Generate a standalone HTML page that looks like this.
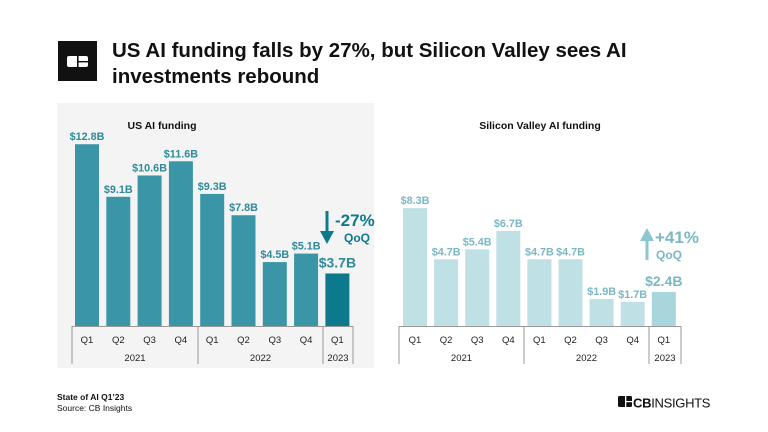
<!DOCTYPE html>
<html><head><meta charset="utf-8"><style>
body{margin:0;background:#fff;}
svg{display:block;font-family:"Liberation Sans",sans-serif;}
</style></head><body>
<svg width="768" height="432" viewBox="0 0 768 432" xmlns="http://www.w3.org/2000/svg">
<rect x="0" y="0" width="768" height="432" fill="#fff"/>
<g>
<rect x="58" y="41" width="39" height="40" fill="#111"/>
<rect x="67" y="56" width="21" height="11" rx="2" fill="#fff"/>
<rect x="77" y="56" width="1.6" height="11" fill="#111"/>
<rect x="77" y="61" width="11" height="1.4" fill="#111"/>
</g>
<text x="112" y="57" font-size="20.5" font-weight="bold" fill="#111">US AI funding falls by 27%, but Silicon Valley sees AI</text>
<text x="112" y="83" font-size="20.5" font-weight="bold" fill="#111">investments rebound</text>
<rect x="57" y="103" width="317" height="265" fill="#f4f4f4"/>
<text x="162" y="129" font-size="10.5" font-weight="bold" fill="#111" text-anchor="middle">US AI funding</text>
<text x="540" y="129" font-size="10.5" font-weight="bold" fill="#111" text-anchor="middle">Silicon Valley AI funding</text>
<g id="us"></g><g id="sv"></g>
<g>
<rect x="325.5" y="211" width="3" height="22" fill="#0c7a8c"/>
<polygon points="320,231 334,231 327,244" fill="#0c7a8c"/>
<text x="335" y="226" font-size="17" font-weight="bold" fill="#0c7a8c">-27%</text>
<text x="357" y="242" font-size="12" font-weight="bold" fill="#0c7a8c" text-anchor="middle">QoQ</text>
</g>
<g>
<rect x="645.5" y="239" width="3" height="21" fill="#8cc6d0"/>
<polygon points="640,241 654,241 647,228" fill="#8cc6d0"/>
<text x="655" y="243" font-size="17" font-weight="bold" fill="#7ab8c4">+41%</text>
<text x="669" y="259" font-size="12" font-weight="bold" fill="#7ab8c4" text-anchor="middle">QoQ</text>
</g>
<text x="57" y="400" font-size="8.5" font-weight="bold" fill="#111">State of AI Q1’23</text>
<text x="57" y="411" font-size="8.5" fill="#111">Source: CB Insights</text>
<g>
<rect x="618" y="396" width="14" height="11" rx="1.5" fill="#111"/>
<rect x="625" y="396" width="1.3" height="11" fill="#fff"/>
<rect x="625" y="401" width="7" height="1.2" fill="#fff"/>
<text x="633" y="407.5" font-size="13" fill="#111" letter-spacing="-0.3"><tspan font-weight="bold">CB</tspan>INSIGHTS</text>
</g>
</svg>
<script>
const quarters=["Q1","Q2","Q3","Q4","Q1","Q2","Q3","Q4","Q1"];
const years=["2021","2022","2023"];
const usValues=[12.8,9.1,10.6,11.6,9.3,7.8,4.5,5.1,3.7];
const svValues=[8.3,4.7,5.4,6.7,4.7,4.7,1.9,1.7,2.4];
const NS="http://www.w3.org/2000/svg";
const baseY=326,pxPerB=14.2;
function y(v){return baseY-v*pxPerB;}
function mk(t,a,p){const e=document.createElementNS(NS,t);for(const k in a)e.setAttribute(k,a[k]);p.appendChild(e);return e;}
function draw(gid,vals,x0,pitch,col,lastCol,lab,borders,prefix){
 const g=document.getElementById(gid);
 const bw=24;
 vals.forEach((v,i)=>{
  const x=x0+i*pitch,last=i===vals.length-1;
  const r=mk('rect',{x:x,y:y(v),width:bw,height:v*pxPerB,fill:last?lastCol:col},g);
  
  
  const t=mk('text',{x:x+bw/2,y:y(v)-(last?6:4),'font-size':last?14:10.8,'font-weight':'bold',fill:lab,'text-anchor':'middle'},g);
  t.textContent='$'+v.toFixed(1)+'B';
  
  
  const q=mk('text',{x:x+bw/2,y:343,'font-size':9.5,fill:'#222','text-anchor':'middle'},g);
  q.textContent=quarters[i];
  
  
 });
 mk('line',{x1:borders[0],x2:borders[3],y1:326.5,y2:326.5,stroke:'#999','stroke-width':1},g);
 borders.forEach(b=>{mk('line',{x1:b,x2:b,y1:326,y2:364,stroke:'#999','stroke-width':1},g);});
 for(let k=0;k<3;k++){
  const yt=mk('text',{x:(borders[k]+borders[k+1])/2,y:361,'font-size':9.5,fill:'#222','text-anchor':'middle'},g);
  yt.textContent=years[k];
  
  
 }
}
draw('us',usValues,75,31.3,'#3a95a6','#0c7a8c','#2f8a9a',[72,198,323,353],'us');
draw('sv',svValues,403,31.1,'#bfe0e5','#a9d5dd','#7ab8c4',[399,524,649,681],'sv');
</script>
</body></html>
